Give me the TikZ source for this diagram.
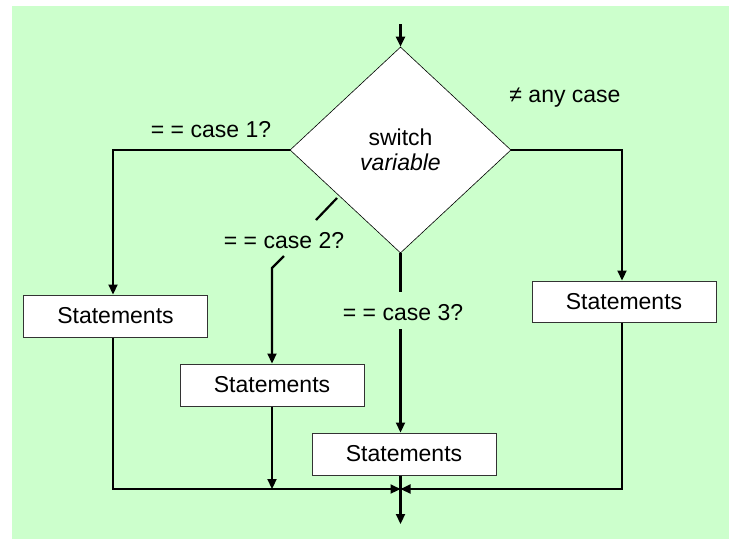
\documentclass[tikz,border=0pt]{standalone}
\usepackage{fontspec}
\setmainfont{Liberation Sans}
\usetikzlibrary{shapes.geometric,arrows.meta}
\definecolor{bg}{HTML}{CCFFCC}
\begin{document}
\begin{tikzpicture}[x=1pt,y=-1pt,
  font=\fontsize{23pt}{25pt}\selectfont,
  flow/.style={line width=2.2pt, -{Triangle[length=10pt,width=9pt]}},
  plain/.style={line width=2.2pt},
  stbox/.style={draw=black!80, line width=1pt, fill=white, minimum width=184pt, minimum height=42pt, inner sep=0pt},
  lbl/.style={inner sep=0pt}]
\useasboundingbox (0,0) rectangle (731,539);
\fill[bg] (12,6) rectangle (729,539);

% decision
\node[draw, line width=0.6pt, fill=white, diamond, minimum width=221pt, minimum height=206pt, inner sep=0pt, align=center] (d) at (400.5,150) {switch\\\textit{variable}};

% statement boxes
\node[stbox] (b1) at (115.5,316) {Statements};
\node[stbox] (b2) at (272,385) {Statements};
\node[stbox] (b3) at (404,454) {Statements};
\node[stbox, minimum height=41pt] (b4) at (624,301.5) {Statements};

% labels
\node[lbl] (l1) at (211,130) {= = case 1?};
\node[lbl] (l2) at (284,241) {= = case 2?};
\node[lbl] (l3) at (403,313) {= = case 3?};
\node[lbl] (l4) at (565,98) {≠ any case};

% coordinates
\coordinate (top) at (400.5,24);
\coordinate (L) at (113,150);
\coordinate (R) at (622,150);
\coordinate (c2a) at (337,198);
\coordinate (c2b) at (316,220);
\coordinate (c2c) at (284,256);
\coordinate (c2d) at (272,268);
\coordinate (c3a) at (400.5,292);
\coordinate (c3b) at (400.5,329);
\coordinate (J) at (400.5,489);
\coordinate (Lb) at (113,489);
\coordinate (Rb) at (622,489);
\coordinate (out) at (400.5,524);

% connectors
\draw[flow] (top) -- (d.north);
\draw[flow] (d.west) -- (L) -- (L |- b1.north);
\draw[flow] (d.east) -- (R) -- (R |- b4.north);
\draw[plain] (c2a) -- (c2b);
\draw[flow] (c2c) -- (c2d) -- (c2d |- b2.north);
\draw[plain] (d.south) -- (c3a);
\draw[flow] (c3b) -- (c3b |- b3.north);
\draw[flow] (L |- b1.south) -- (Lb) -- (J);
\draw[flow] (R |- b4.south) -- (Rb) -- (J);
\draw[flow] (b2.south) -- (b2.south |- J);
\draw[flow] (b3.south -| J) -- (out);
\end{tikzpicture}
\end{document}
